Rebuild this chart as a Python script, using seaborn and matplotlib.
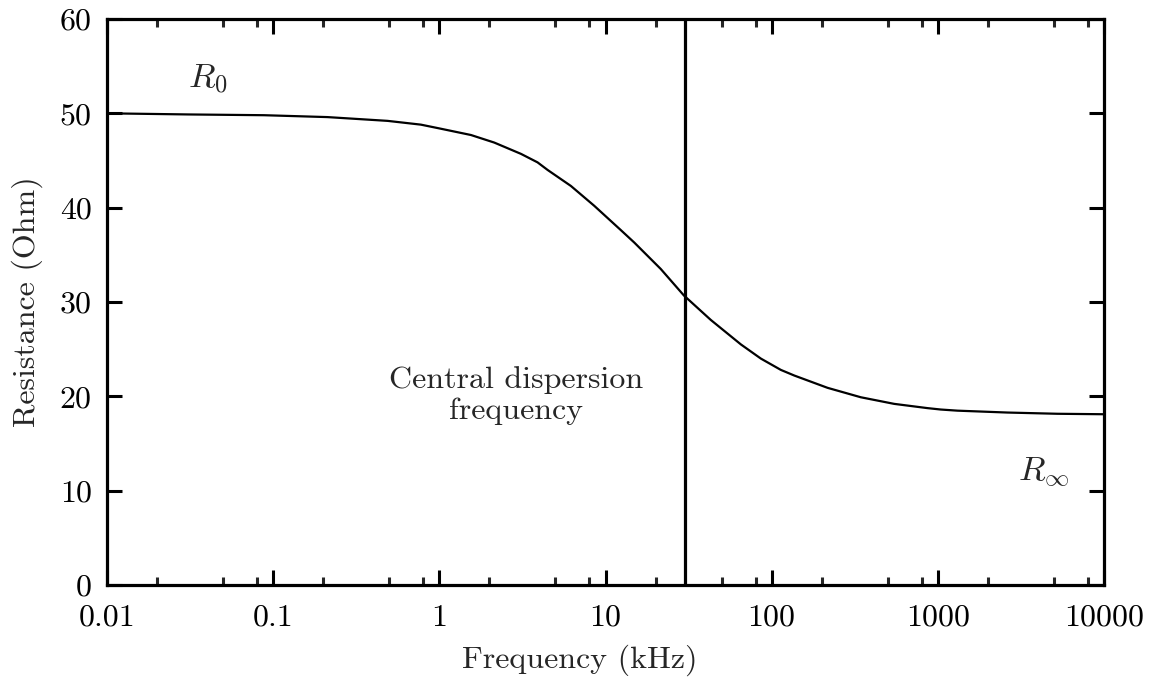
import numpy as np
import pandas as pd
import matplotlib
matplotlib.use("Agg")
import matplotlib.pyplot as plt
import seaborn as sns
from matplotlib.ticker import FixedLocator, NullFormatter

# --- data ---
frequency_khz = [0.01, 0.031, 0.088, 0.212, 0.488, 0.774, 1.0, 1.55, 2.14, 3.10,
                 3.90, 4.48, 6.19, 8.55, 12.4, 14.9, 21.5, 29.6, 43.0, 65.3, 86.1,
                 113.6, 137, 217, 344, 546, 866, 1042, 1313, 2627, 5250, 10000]
resistance_ohm = [50.0, 49.88, 49.8, 49.6, 49.2, 48.8, 48.4, 47.7, 46.9, 45.7,
                  44.8, 44.0, 42.3, 40.2, 37.6, 36.3, 33.5, 30.7, 28.1, 25.5, 24.0,
                  22.8, 22.2, 20.9, 19.9, 19.2, 18.75, 18.6, 18.48, 18.28, 18.15, 18.1]
central_freq = 30
x_ticks = [0.01, 0.1, 1, 10, 100, 1000, 10000]
x_tick_labels = ["0.01", "0.1", "1", "10", "100", "1000", "10000"]
y_ticks = [0, 10, 20, 30, 40, 50, 60]
y_tick_labels = ["0", "10", "20", "30", "40", "50", "60"]
minor_mult = [2, 5, 8]

df = pd.DataFrame({"f": frequency_khz, "R": resistance_ohm})

sns.set_style("ticks")
plt.rcParams["font.family"] = ["cmr10", "DejaVu Serif"]
plt.rcParams["mathtext.fontset"] = "cm"
plt.rcParams["axes.formatter.use_mathtext"] = True

fig = plt.figure(figsize=(11.56, 6.83), dpi=100)
ax = fig.add_axes([0.0926, 0.1435, 0.8624, 0.8287])

sns.lineplot(data=df, x="f", y="R", ax=ax, color="black", linewidth=1.6)
ax.axvline(central_freq, color="black", linewidth=2.3)

ax.set_xscale("log")
ax.set_xlim(0.01, 10000)
ax.set_ylim(0, 60)

ax.xaxis.set_major_locator(FixedLocator(x_ticks))
ax.set_xticklabels(x_tick_labels)
minors = [m * t for t in x_ticks[:-1] for m in minor_mult]
ax.xaxis.set_minor_locator(FixedLocator(minors))
ax.xaxis.set_minor_formatter(NullFormatter())
ax.set_yticks(y_ticks)
ax.set_yticklabels(y_tick_labels)

ax.tick_params(axis="both", which="major", direction="in", length=11, width=2.2,
               top=True, right=True, labelsize=23, colors="black")
ax.tick_params(axis="x", which="major", pad=14)
ax.tick_params(axis="y", which="major", pad=11)
ax.tick_params(axis="x", which="minor", direction="in", length=5.5, width=2.2,
               top=True, bottom=True)
ax.tick_params(axis="y", which="minor", left=False, right=False)

for s in ax.spines.values():
    s.set_linewidth(2.3)
    s.set_color("black")
    s.set_visible(True)

ax.set_xlabel("Frequency (kHz)", fontsize=23)
ax.set_ylabel("Resistance (Ohm)", fontsize=23, labelpad=12)
ax.xaxis.set_label_coords(0.474, -0.133)
ax.xaxis.label.set_va("center")

ax.text(0.0405, 53.6, r"$R_0$", fontsize=25, ha="center", va="center")
ax.text(4345, 11.9, r"$R_\infty$", fontsize=25, ha="center", va="center")
ax.text(2.9, 20.1, "Central dispersion\nfrequency", fontsize=23,
        ha="center", va="center", linespacing=1.15)

fig.savefig("out.png", dpi=100, facecolor="white")
